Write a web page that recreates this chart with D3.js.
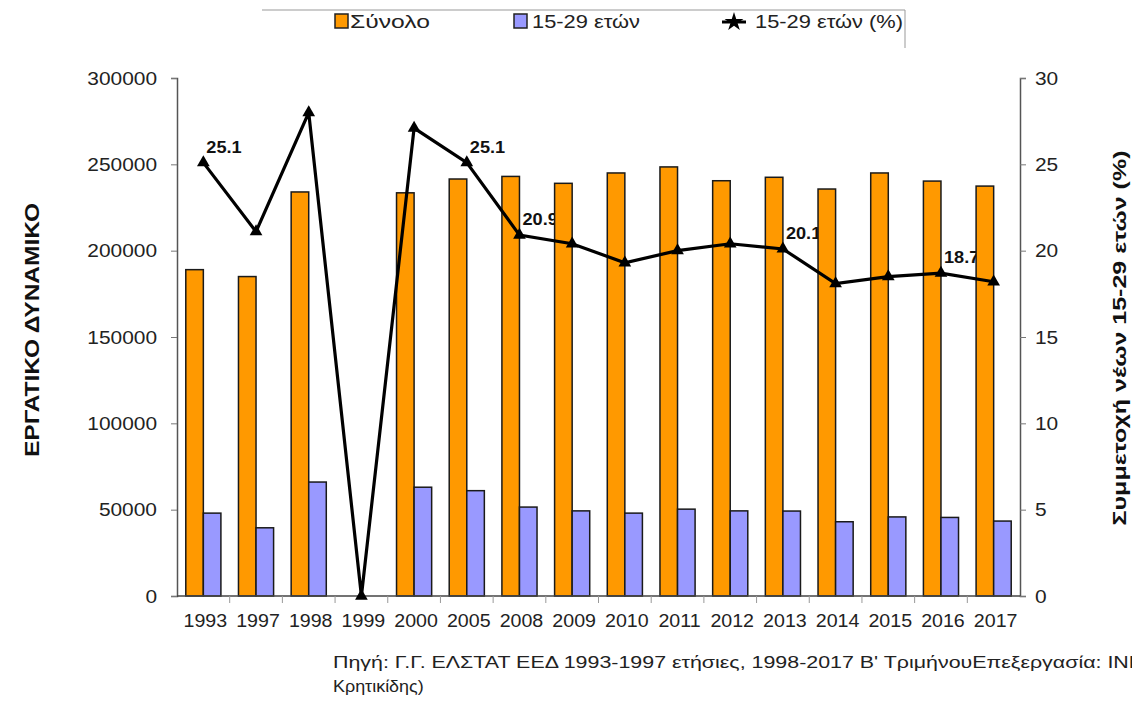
<!DOCTYPE html>
<html><head><meta charset="utf-8">
<script src="https://cdn.jsdelivr.net/npm/d3@7"></script>
<style>
body{margin:0;background:#fff}
text{font-family:Arial,"Liberation Sans",sans-serif}
</style>
</head><body>
<svg id="c" width="1132" height="704"></svg>
<script>
// ---- data ----
const years = ["1993","1997","1998","1999","2000","2005","2008","2009","2010","2011","2012","2013","2014","2015","2016","2017"];
const totalValues = [189000,185000,234000,0,233500,241500,243000,239000,245000,248500,240500,242500,235700,245000,240300,237400];
const youthValues = [48000,39500,66000,0,63000,61000,51500,49300,48000,50300,49300,49200,43000,45800,45500,43400];
const youthPct = [25.1,21.1,28.0,0,27.1,25.1,20.9,20.4,19.3,20.0,20.4,20.1,18.1,18.5,18.7,18.2];
const labelledYears = ["1993","2005","2008","2013","2016"];
const leftTicks = [0,50000,100000,150000,200000,250000,300000];
const rightTicks = [0,5,10,15,20,25,30];
const seriesNames = ["Σύνολο","15-29 ετών","15-29 ετών (%)"];
const leftTitle = "ΕΡΓΑΤΙΚΟ ΔΥΝΑΜΙΚΟ";
const rightTitle = "Συμμετοχή νέων 15-29 ετών (%)";
const sourceLines = ["Πηγή: Γ.Γ. ΕΛΣΤΑΤ ΕΕΔ 1993-1997 ετήσιες, 1998-2017 Β' ΤριμήνουΕπεξεργασία: ΙΝΕ ΓΣΕΕ (Γ.", "Κρητικίδης)"];

const colors = {total:"#FF9900", youth:"#9999FF", line:"#000"};

const svg = d3.select("#c");
const L = 177, R = 1020, T = 78, B = 596;

const x = d3.scaleBand().domain(years).range([L, R]).padding(0);
const xs = d3.scaleBand().domain(["total","youth"]).range([0, x.bandwidth()]).paddingInner(0).paddingOuter(0.5);
const yL = d3.scaleLinear().domain([0,300000]).range([B, T]);
const yR = d3.scaleLinear().domain([0,30]).range([B, T]);

function stretch(sel, f){
  sel.each(function(){
    const len = this.getComputedTextLength();
    d3.select(this).attr("textLength", len*f).attr("lengthAdjust","spacingAndGlyphs");
  });
}

// data labels (drawn behind bars)
const lab = svg.append("g");
years.forEach((yr,i)=>{
  if(!labelledYears.includes(yr)) return;
  lab.append("text")
    .attr("x", x(yr)+x.bandwidth()/2+3)
    .attr("y", yR(youthPct[i])-10)
    .attr("font-size",16.5).attr("font-weight","bold").attr("fill","#111")
    .text(youthPct[i].toFixed(1)).call(stretch,1.1);
});

// bars
const bars = svg.append("g");
years.forEach((yr,i)=>{
  [["total",totalValues[i]],["youth",youthValues[i]]].forEach(([k,v])=>{
    if(v<=0) return;
    bars.append("rect")
      .attr("x", x(yr)+xs(k))
      .attr("y", yL(v))
      .attr("width", xs.bandwidth())
      .attr("height", B - yL(v))
      .attr("fill", colors[k])
      .attr("stroke","#1a1a1a").attr("stroke-width",1.5);
  });
});

// axes
const axL = svg.append("g").attr("transform",`translate(${L},0)`)
  .call(d3.axisLeft(yL).tickValues(leftTicks).tickSize(6).tickPadding(14).tickFormat(d=>String(d)));
const axR = svg.append("g").attr("transform",`translate(${R},0)`)
  .call(d3.axisRight(yR).tickValues(rightTicks).tickSize(6).tickPadding(9).tickFormat(d=>String(d)));
[axL,axR].forEach(a=>{
  a.select(".domain").attr("stroke","#555").attr("stroke-width",1.5);
  a.selectAll(".tick line").attr("stroke","#777");
  a.selectAll(".tick text").attr("font-size",19).attr("fill","#222").style("font-family","Arial, Liberation Sans, sans-serif");
});
stretch(axL.selectAll(".tick text"),1.1);
stretch(axR.selectAll(".tick text"),1.1);

// x axis
const axB = svg.append("g");
axB.append("line").attr("x1",L).attr("x2",R).attr("y1",B).attr("y2",B).attr("stroke","#444").attr("stroke-width",1.5);
years.forEach((yr,i)=>{
  if(i>0) axB.append("line").attr("x1",x(yr)).attr("x2",x(yr)).attr("y1",B).attr("y2",B+7).attr("stroke","#999");
  axB.append("text").attr("x",x(yr)+x.bandwidth()/2+2).attr("y",627)
    .attr("text-anchor","middle").attr("font-size",17.5).attr("fill","#222").text(yr);
});
stretch(axB.selectAll("text"),1.12);

// line
const line = d3.line().x((d,i)=>x(years[i])+x.bandwidth()/2).y(d=>yR(d));
svg.append("path").datum(youthPct).attr("d",line)
  .attr("fill","none").attr("stroke",colors.line).attr("stroke-width",3.2).attr("stroke-linejoin","miter");
const marker = d3.symbol().type(d3.symbolTriangle).size(70);
svg.append("g").selectAll("path").data(youthPct).join("path")
  .attr("d",marker)
  .attr("transform",(d,i)=>`translate(${x(years[i])+x.bandwidth()/2},${yR(d)})`)
  .attr("fill","#000");

// axis titles
svg.append("text").attr("transform",`translate(39,330) rotate(-90)`)
  .attr("text-anchor","middle").attr("font-size",20).attr("font-weight","bold").attr("fill","#111")
  .attr("textLength",254).attr("lengthAdjust","spacingAndGlyphs").text(leftTitle);
svg.append("text").attr("transform",`translate(1126,338) rotate(-90)`)
  .attr("text-anchor","middle").attr("font-size",19).attr("font-weight","bold").attr("fill","#111")
  .attr("textLength",375).attr("lengthAdjust","spacingAndGlyphs").text(rightTitle);

// legend
const lg = svg.append("g");
lg.append("line").attr("x1",262).attr("x2",905).attr("y1",10).attr("y2",10).attr("stroke","#999");
lg.append("line").attr("x1",905).attr("x2",905).attr("y1",10).attr("y2",48).attr("stroke","#999");
lg.append("rect").attr("x",335).attr("y",14).attr("width",13).attr("height",14).attr("fill",colors.total).attr("stroke","#222").attr("stroke-width",1.5);
lg.append("rect").attr("x",514).attr("y",14).attr("width",13).attr("height",14).attr("fill",colors.youth).attr("stroke","#222").attr("stroke-width",1.5);
lg.append("line").attr("x1",722).attr("x2",746).attr("y1",22).attr("y2",22).attr("stroke","#000").attr("stroke-width",3);
lg.append("path").attr("d",d3.symbol().type(d3.symbolStar).size(110)).attr("transform","translate(734,22)").attr("fill","#000");
const lt = [[350,seriesNames[0],80],[532,seriesNames[1],108],[755,seriesNames[2],148]];
lt.forEach(([px,t,w])=>{
  lg.append("text").attr("x",px).attr("y",28).attr("font-size",18).attr("fill","#222")
    .attr("textLength",w).attr("lengthAdjust","spacingAndGlyphs").text(t);
});

// source
const src = svg.append("g");
src.append("text").attr("x",333).attr("y",668).attr("font-size",16).attr("fill","#222")
  .attr("textLength",898).attr("lengthAdjust","spacingAndGlyphs").text(sourceLines[0]);
src.append("text").attr("x",333).attr("y",692).attr("font-size",16).attr("fill","#222")
  .text(sourceLines[1]).call(stretch,1.12);
</script>
</body></html>
